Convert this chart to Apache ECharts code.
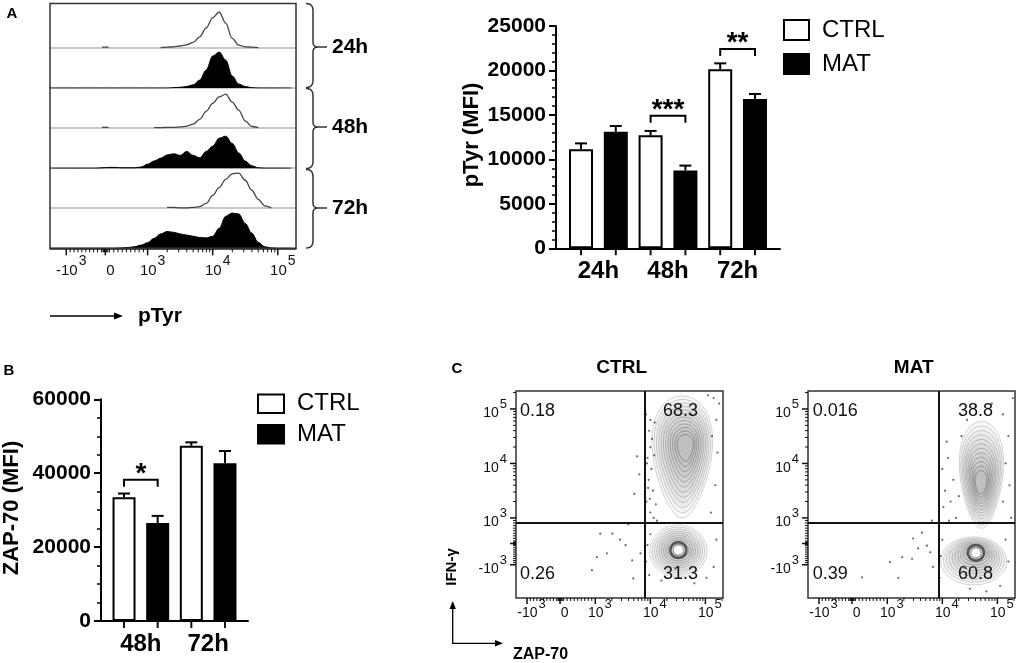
<!DOCTYPE html>
<html>
<head>
<meta charset="utf-8">
<script src="https://cdn.jsdelivr.net/npm/echarts@6/dist/echarts.min.js"></script>
<style>
  html, body { margin: 0; padding: 0; background: #fff; }
  #chart { width: 1020px; height: 663px; }
</style>
</head>
<body>
<div id="chart"></div>
<script>
/* ============================================================
   pTyr / ZAP-70 figure (panels A, B, C)
   ============================================================ */
const FONT = '"Liberation Sans", Arial, Helvetica, sans-serif';
const NARROW = '"Liberation Sans Narrow", "Arial Narrow", "Liberation Sans", Arial, sans-serif';

/* --- A: histograms (x in display units: 3 = 10^3, 4 = 10^4, 5 = 10^5) --- */
const histPos = [1.5,1.6,1.7,1.8,1.9,2.0,2.1,2.2,2.3,2.4,2.5,2.6,2.7,2.8,2.9,3.0,3.1,3.2,3.3,3.4,
                 3.5,3.6,3.7,3.8,3.9,4.0,4.1,4.2,4.3,4.4,4.5,4.6,4.7,4.8,4.9,5.0,5.1,5.2];
const histCtrl24 = [0,0,0,0,0,0,0,0,.02,.02,0,0,0,0,0,0,0,.01,.02,.03,.05,.08,.14,.28,.5,.76,.9,.62,.24,.07,.03,.02,.01,0,0,0,0,0];
const histMat24  = [0,0,0,0,0,0,0,0,0,0,0,0,0,0,0,0,0,0,0,.01,.02,.04,.08,.2,.45,.8,.9,.7,.3,.1,.04,.01,0,0,0,0,0,0];
const histCtrl48 = [0,0,0,0,0,0,0,0,.02,.02,0,0,0,0,0,0,.01,.01,.02,.02,.03,.05,.1,.22,.42,.62,.78,.85,.65,.45,.18,.04,.01,0,0,0,0,0];
const histMat48  = [0,0,0,0,0,0,0,0,.01,.02,.02,.01,.01,.01,.03,.1,.18,.25,.33,.36,.32,.42,.32,.26,.42,.55,.75,.8,.62,.38,.18,.06,.01,0,0,0,0,0];
const histCtrl72 = [0,0,0,0,0,0,0,0,0,0,0,0,0,0,0,0,0,0,.02,.02,.01,.01,.02,.04,.12,.32,.52,.72,.86,.88,.7,.45,.22,.06,.01,0,0,0];
const histMat72  = [0,0,0,0,0,0,0,0,0,0,0,.01,.02,.04,.08,.14,.25,.36,.42,.4,.36,.33,.3,.27,.26,.3,.5,.8,.88,.86,.62,.38,.15,.04,.01,0,0,0];
const histRows = [histCtrl24, histMat24, histCtrl48, histMat48, histCtrl72, histMat72];
const histFilled = [false, true, false, true, false, true];
const timeLabels = ['24h', '48h', '72h'];

/* --- flow axis ticks --- */
const flowTickVals = [-1000, 0, 1000, 10000, 100000];
const flowTickText = ['{b|-10}{e|3}', '{b|0}', '{b|10}{e|3}', '{b|10}{e|4}', '{b|10}{e|5}'];

/* --- A: pTyr MFI bars --- */
const pTyrCtrl = [11150, 12700, 20150];
const pTyrCtrlErr = [650, 500, 650];
const pTyrMat = [13100, 8750, 16800];
const pTyrMatErr = [650, 550, 550];
const pTyrSig = [[2, 3, 14900], [4, 5, 22400]];
const pTyrSigText = ['***', '**'];

/* --- B: ZAP-70 MFI bars --- */
const zapLabels = ['48h', '72h'];
const zapCtrl = [33500, 47400];
const zapCtrlErr = [1000, 950];
const zapMat = [26500, 42700];
const zapMatErr = [1950, 3300];
const zapSig = [[0, 1, 38200]];
const zapSigText = ['*'];

/* --- C: contour plots (ZAP-70 vs IFN-g) --- */
const quadCtrl = ['0.18', '68.3', '0.26', '31.3'];
const quadMat = ['0.016', '38.8', '0.39', '60.8'];
const gateCtrl = [3.89, 2.91];
const gateMat = [3.93, 2.91];
// [cx, cy, rx, ry, innerCx, innerCy, levels, holeRadius, taper]
const lobesCtrl = [[4.58, 4.12, 0.53, 1.12, 4.64, 4.30, 12, 0, 0.3], [4.51, 2.39, 0.52, 0.48, 4.51, 2.41, 10, 0.09, 0]];
const lobesMat = [[4.71, 3.79, 0.39, 0.98, 4.70, 3.64, 12, 0, 0.25], [4.57, 2.21, 0.6, 0.44, 4.61, 2.36, 10, 0.09, 0]];
const dotsCtrl = [[2.94,2.04],[3.09,2.71],[3.31,2.71],[3.03,2.28],[3.21,2.35],[3.67,2.22],[3.69,1.89],[3.6,2.88],
  [3.82,2.35],[3.76,4.13],[3.71,3.44],[3.8,3.8],[3.45,2.6],[3.55,2.5],
  [3.92,4.9],[3.98,4.6],[4.0,4.3],[3.95,4.1],[4.02,3.9],[3.97,3.7],[4.05,3.5],[3.93,3.3],[4.0,3.1],[4.08,4.75],
  [4.1,3.25],[3.96,3.55],[4.03,4.45],[3.94,4.0],[4.06,3.0],[4.12,2.95],[4.0,4.8],[4.07,4.15],[3.99,3.35],
  [5.15,5.2],[5.2,4.8],[5.05,5.25],[5.22,4.2],[5.18,3.6],[5.1,3.1],[5.2,2.6],[5.15,2.1],[5.02,1.9],[4.2,1.85],
  [4.8,1.8],[5.25,5.1],[5.12,4.5],[3.95,2.5],[3.92,2.2],[4.0,2.7],[3.98,1.95]];
const dotsMat = [[3.47,2.62],[3.63,2.73],[3.27,2.28],[3.05,2.19],[2.54,1.91],[3.2,1.9],[3.78,2.37],[3.83,2.1],
  [3.56,2.44],[3.81,2.95],[3.45,2.25],[3.72,2.49],
  [4.1,4.1],[4.2,3.7],[4.05,3.5],[4.15,3.3],[4.25,3.0],[4.0,3.9],[4.3,3.4],[4.12,2.95],[4.35,4.5],[4.45,4.8],
  [4.6,5.05],[4.9,5.1],[5.1,4.9],[5.2,4.5],[5.15,4.0],[5.22,3.6],[5.1,3.3],[5.25,3.0],[4.02,3.2],[4.08,4.4],[5.28,5.2],
  [5.15,2.6],[5.2,2.2],[5.05,1.75],[4.5,1.7],[4.8,1.65],[3.97,2.3],[3.95,1.9],[4.0,2.6]];

/* ============================================================
   helpers
   ============================================================ */
// biexponential-ish display transform
function biex(v, negPos, zeroPos) {
  if (v >= 1000) return Math.log10(v);
  if (v >= 0) return zeroPos + v / 1000 * (3 - zeroPos);
  return zeroPos + v / 1000 * (zeroPos - negPos);
}
const minorRaw = [];
for (let v = -900; v <= 900; v += 100) if (v !== 0) minorRaw.push(v);
[-60, -40, -20, 20, 40, 60].forEach(v => minorRaw.push(v));
for (let d = 1000; d <= 100000; d *= 10) for (let k = 2; k <= 9; k++) minorRaw.push(k * d);

function nearestIdx(arr, v) {
  let best = 0;
  arr.forEach((p, i) => { if (Math.abs(p - v) < Math.abs(arr[best] - v)) best = i; });
  return best;
}

// "10" with a raised exponent; tight line boxes so close labels are not dropped
function supRich(fs, sup, raise, shift) {
  return {
    b: { fontSize: fs, lineHeight: 8, padding: [raise, 0, 0, shift], fontFamily: FONT, color: '#111' },
    e: { fontSize: sup, lineHeight: 8, padding: [0, 0, raise, 1], fontFamily: FONT, color: '#111' }
  };
}

const grids = [], xAxes = [], yAxes = [], series = [];
const addGrid = g => { grids.push(g); return grids.length - 1; };
const addX = a => { xAxes.push(Object.assign({ type: 'value', splitLine: { show: false } }, a)); return xAxes.length - 1; };
const addY = a => { yAxes.push(Object.assign({ type: 'value', splitLine: { show: false } }, a)); return yAxes.length - 1; };

// tick marks drawn through the axis scale (one item anchored inside the grid)
function tickSeries(xi, yi, dim, values, edge, len, width, mid) {
  series.push({ type: 'custom', xAxisIndex: xi, yAxisIndex: yi, silent: true, z: 10, clip: false,
    data: [mid],
    renderItem: (params, api) => ({ type: 'group', children: values.map(v => {
      const p = api.coord(dim === 'x' ? [v, edge] : [edge, v]);
      const q = dim === 'x' ? [p[0], p[1] + len] : [p[0] - len, p[1]];
      return { type: 'line', shape: { x1: p[0], y1: p[1], x2: q[0], y2: q[1] }, style: { stroke: '#111', lineWidth: width } };
    }) }) });
}

function flowAxis(dim, gridIndex, min, max, negPos, zeroPos, o) {
  const majorPos = flowTickVals.map(v => biex(v, negPos, zeroPos));
  const add = dim === 'x' ? addX : addY;
  return add({ gridIndex, min, max, position: dim === 'x' ? 'bottom' : 'left',
    axisLine: { show: o.line, onZero: false, lineStyle: { color: '#222', width: 1.5 } },
    axisTick: { show: false },
    axisLabel: { show: true, customValues: majorPos, margin: o.margin, hideOverlap: false,
      showMinLabel: true, showMaxLabel: true,
      formatter: v => flowTickText[nearestIdx(majorPos, v)], rich: supRich(o.fs, o.sup, o.raise, o.shift) } });
}
function flowTicks(xi, yi, dim, min, max, negPos, zeroPos, edge, mid, o) {
  const majorPos = flowTickVals.map(v => biex(v, negPos, zeroPos));
  const minorPos = minorRaw.map(v => biex(v, negPos, zeroPos)).filter(p => p > min && p < max);
  tickSeries(xi, yi, dim, majorPos, edge, o.major, 1.5, mid);
  tickSeries(xi, yi, dim, minorPos, edge, o.minor, 1, mid);
}

function errorBar(params, api) {
  const x = api.value(0), v = api.value(1), e = api.value(2);
  const p0 = api.coord([x, v]), p1 = api.coord([x, v + e]);
  const st = { stroke: '#000', lineWidth: 2 };
  return { type: 'group', children: [
    { type: 'line', shape: { x1: p0[0], y1: p0[1], x2: p1[0], y2: p1[1] }, style: st },
    { type: 'line', shape: { x1: p1[0] - 6, y1: p1[1], x2: p1[0] + 6, y2: p1[1] }, style: st }
  ] };
}

function sigBracket(texts) {
  return function (params, api) {
    const a = api.coord([api.value(0), api.value(2)]);
    const b = api.coord([api.value(1), api.value(2)]);
    const st = { stroke: '#000', lineWidth: 2, fill: null };
    return { type: 'group', children: [
      { type: 'polyline', shape: { points: [[a[0], a[1] + 7], [a[0], a[1]], [b[0], b[1]], [b[0], b[1] + 7]] }, style: st },
      { type: 'text', x: (a[0] + b[0]) / 2, y: a[1] - 20,
        style: { text: texts[params.dataIndex], fontSize: 28, fontWeight: 'bold', fontFamily: FONT,
                 fill: '#000', align: 'center', verticalAlign: 'top' } }
    ] };
  };
}

// egg-shaped contour outline (pixel space); taper narrows the lower half
function eggPts(cx, cy, rx, ry, taper) {
  const pts = [];
  for (let k = 0; k < 56; k++) {
    const a = k / 56 * Math.PI * 2, s = Math.sin(a);
    pts.push([cx + rx * Math.cos(a) * (1 - taper * s), cy + ry * s]);
  }
  return pts;
}

function lobe(params, api) {
  const cx = api.value(0), cy = api.value(1), rx = api.value(2), ry = api.value(3);
  const icx = api.value(4), icy = api.value(5), n = api.value(6), hole = api.value(7), taper = api.value(8);
  const kids = [];
  for (let k = 0; k < n; k++) {
    const t = k / n;
    const c = api.coord([cx + (icx - cx) * t, cy + (icy - cy) * t]);
    const s = api.size([rx * (1 - 0.8 * t), ry * (1 - 0.85 * t)]);
    const g = Math.round(200 - 85 * t);
    kids.push({ type: 'polygon', shape: { points: eggPts(c[0], c[1], s[0], s[1], taper) },
      style: { fill: 'rgba(110,110,110,0.04)', stroke: `rgb(${g},${g},${g})`, lineWidth: 0.8 } });
  }
  if (hole > 0) {
    const c = api.coord([icx, icy]), s = api.size([hole, hole]);
    kids.push({ type: 'polygon', shape: { points: eggPts(c[0], c[1], s[0] * 1.6, s[1] * 1.6, 0) },
      style: { fill: null, stroke: '#555', lineWidth: 2.5 } });
    kids.push({ type: 'polygon', shape: { points: eggPts(c[0], c[1], s[0], s[1], 0) }, style: { fill: '#fff', stroke: '#777', lineWidth: 0.8 } });
  }
  return { type: 'group', children: kids };
}

/* ============================================================
   A — stacked histograms
   ============================================================ */
histRows.forEach((vals, i) => {
  const baseY = 48 + i * 40.06;
  const g = addGrid({ left: 50, top: baseY - 40, width: 246, height: 40 });
  const last = i === histRows.length - 1;
  const xi = last
    ? flowAxis('x', g, 1.5, 5.28, 1.75, 2.35, { line: true, margin: 14, fs: 15, sup: 14, raise: 10, shift: 10 })
    : addX({ gridIndex: g, min: 1.5, max: 5.28, axisLine: { show: true, onZero: false, lineStyle: { color: '#b5b5b5', width: 1.5 } },
        axisTick: { show: false }, axisLabel: { show: false } });
  const yi = addY({ gridIndex: g, min: 0, max: 1, show: false });
  if (last) flowTicks(xi, yi, 'x', 1.5, 5.28, 1.75, 2.35, 0, [3, 0.5], { major: 7, minor: 4 });
  const filled = histFilled[i];
  series.push({
    type: 'line', xAxisIndex: xi, yAxisIndex: yi, smooth: 0.35, smoothMonotone: 'x', symbol: 'none',
    connectNulls: false, silent: true,
    data: histPos.map((x, k) => [x, (!filled && vals[k] === 0) ? null : vals[k]]),
    lineStyle: { color: filled ? '#000' : '#444', width: filled ? 1 : 1.3 },
    areaStyle: filled ? { color: '#000', opacity: 1 } : undefined
  });
});

/* ============================================================
   bar panels (A right, B)
   ============================================================ */
function barPanel(box, labels, ctrl, ctrlErr, mat, matErr, sig, sigText, yMax, yInterval, yMinor, barW) {
  const n = labels.length * 2;
  const g = addGrid({ left: box.left, top: box.top, width: box.width, height: box.height });
  const xr = { min: -box.pad / box.step, max: n - 1 + box.pad / box.step };
  const barCenters = [];
  for (let k = 0; k < n; k++) barCenters.push(k);
  const labelPos = labels.map((_, i) => i * 2 + 0.5);
  const xc = addX(Object.assign({ gridIndex: g }, xr, {
    axisLine: { onZero: false, lineStyle: { color: '#000', width: 2 } },
    axisTick: { show: false },
    axisLabel: { customValues: labelPos, margin: 11, formatter: v => labels[Math.round((v - 0.5) / 2)],
      fontSize: 24, fontWeight: 'bold', fontFamily: FONT, color: '#000' }
  }));
  const xm = addX(Object.assign({ gridIndex: g, show: false }, xr));
  const y = addY({ gridIndex: g, min: 0, max: yMax, interval: yInterval,
    axisLine: { show: true, onZero: false, lineStyle: { color: '#000', width: 2 } },
    axisTick: { show: true, length: 7, lineStyle: { color: '#000', width: 2 } },
    minorTick: { show: true, splitNumber: yMinor, length: 4, lineStyle: { color: '#000', width: 1.5 } },
    axisLabel: { margin: 10, fontSize: 21, fontWeight: 'bold', fontFamily: FONT, color: '#000', formatter: v => String(v) }
  });
  tickSeries(xc, y, 'x', barCenters, 0, 7, 2, [0, yMax / 2]);
  series.push({ name: 'CTRL', type: 'bar', xAxisIndex: xc, yAxisIndex: y, barWidth: barW,
    data: ctrl.map((v, i) => [i * 2, v]), itemStyle: { color: '#fff', borderColor: '#000', borderWidth: 2 } });
  series.push({ name: 'MAT', type: 'bar', xAxisIndex: xm, yAxisIndex: y, barWidth: barW,
    data: mat.map((v, i) => [i * 2 + 1, v]), itemStyle: { color: '#000', borderColor: '#000', borderWidth: 2 } });
  series.push({ type: 'custom', xAxisIndex: xc, yAxisIndex: y, renderItem: errorBar, z: 3, silent: true,
    data: ctrl.map((v, i) => [i * 2, v, ctrlErr[i]]).concat(mat.map((v, i) => [i * 2 + 1, v, matErr[i]])) });
  series.push({ type: 'custom', xAxisIndex: xc, yAxisIndex: y, renderItem: sigBracket(sigText), z: 3, silent: true,
    data: sig });
}

barPanel({ left: 556, top: 26, width: 224, height: 222.3, pad: 25, step: 34.8 },
  timeLabels, pTyrCtrl, pTyrCtrlErr, pTyrMat, pTyrMatErr, pTyrSig, pTyrSigText, 25000, 5000, 5, 24);
barPanel({ left: 101, top: 399.3, width: 147, height: 221.7, pad: 23, step: 33.6 },
  zapLabels, zapCtrl, zapCtrlErr, zapMat, zapMatErr, zapSig, zapSigText, 60000, 20000, 4, 23);

/* ============================================================
   C — contour plots
   ============================================================ */
function flowPanel(left, lobes, dots, gate) {
  const g = addGrid({ left, top: 391, width: 207, height: 207, show: true, borderColor: '#333', borderWidth: 1.5 });
  const xi = flowAxis('x', g, 1.56, 5.32, 1.76, 2.36, { line: false, margin: 7, fs: 14, sup: 13, raise: 9, shift: 9 });
  const yi = flowAxis('y', g, 1.53, 5.33, 2.14, 2.53, { line: false, margin: 9, fs: 14, sup: 13, raise: 9, shift: 0 });
  const mid = [3.4, 3.4];
  flowTicks(xi, yi, 'x', 1.56, 5.32, 1.76, 2.36, 1.53, mid, { major: 6, minor: 3 });
  flowTicks(xi, yi, 'y', 1.53, 5.33, 2.14, 2.53, 1.56, mid, { major: 6, minor: 3 });
  series.push({ type: 'custom', xAxisIndex: xi, yAxisIndex: yi, renderItem: lobe, silent: true, clip: true, data: lobes });
  series.push({ type: 'scatter', xAxisIndex: xi, yAxisIndex: yi, symbolSize: 2.2, silent: true,
    itemStyle: { color: '#444' }, data: dots,
    markLine: { silent: true, symbol: 'none', label: { show: false }, animation: false,
      lineStyle: { color: '#111', width: 2, type: 'solid' },
      data: [{ xAxis: gate[0] }, { yAxis: gate[1] }] } });
}
flowPanel(516, lobesCtrl, dotsCtrl, gateCtrl);
flowPanel(808, lobesMat, dotsMat, gateMat);

/* ============================================================
   annotations
   ============================================================ */
const txt = (x, y, text, o) => ({ type: 'text', x, y, rotation: o.rot || 0, z: 100,
  style: { text, fontSize: o.fs, fontWeight: o.w || 'normal', fontFamily: o.ff || FONT, fill: o.c || '#000',
           align: o.align || 'left', verticalAlign: 'middle' } });
const arrowHead = (pts) => ({ type: 'polygon', z: 100, shape: { points: pts }, style: { fill: '#000' } });

const graphics = [
  { type: 'rect', z: 100, shape: { x: 50, y: 3.5, width: 246, height: 244.8 }, style: { fill: null, stroke: '#333', lineWidth: 1.5 } },
  txt(12, 14, 'A', { fs: 15, w: 'bold', align: 'center' }),
  txt(9, 371, 'B', { fs: 15, w: 'bold', align: 'center' }),
  txt(457, 369, 'C', { fs: 15, w: 'bold', align: 'center' }),
  { type: 'line', z: 100, shape: { x1: 50, y1: 316, x2: 116, y2: 316 }, style: { stroke: '#000', lineWidth: 1.5 } },
  arrowHead([[123, 316], [114, 312.5], [114, 319.5]]),
  txt(138, 316, 'pTyr', { fs: 21, w: 'bold' }),
  txt(472, 135, 'pTyr (MFI)', { fs: 22, w: 'bold', align: 'center', rot: Math.PI / 2 }),
  txt(12, 508, 'ZAP-70 (MFI)', { fs: 22, w: 'bold', align: 'center', rot: Math.PI / 2 }),
  txt(621.7, 368, 'CTRL', { fs: 19, w: 'bold', ff: NARROW, align: 'center' }),
  txt(913.7, 368, 'MAT', { fs: 19, w: 'bold', ff: NARROW, align: 'center' }),
  txt(451.7, 567, 'IFN-γ', { fs: 15, w: 'bold', ff: NARROW, align: 'center', rot: Math.PI / 2 }),
  txt(513, 655, 'ZAP-70', { fs: 16, w: 'bold', ff: NARROW }),
  { type: 'polyline', z: 100, shape: { points: [[452.7, 608], [452.7, 643.3], [496, 643.3]] }, style: { stroke: '#000', lineWidth: 1.3, fill: null } },
  arrowHead([[452.7, 601], [449.5, 609], [455.9, 609]]),
  arrowHead([[503, 643.3], [495, 640.1], [495, 646.5]])
];

// quadratic curve sampled into points
function quad(p0, c, p1) {
  const pts = [];
  for (let k = 0; k <= 6; k++) {
    const t = k / 6, u = 1 - t;
    pts.push([u * u * p0[0] + 2 * u * t * c[0] + t * t * p1[0], u * u * p0[1] + 2 * u * t * c[1] + t * t * p1[1]]);
  }
  return pts;
}
// braces next to the histogram rows
[[3.5, 87.5, 47], [88.5, 168.5, 127], [169.5, 248, 208]].forEach((b, i) => {
  const [y1, y2, ym] = b;
  const pts = [].concat(
    quad([306, y1], [313, y1], [313, y1 + 7]),
    quad([313, ym - 5], [313, ym], [318, ym]),
    [[327, ym], [318, ym]],
    quad([318, ym], [313, ym], [313, ym + 5]),
    quad([313, y2 - 7], [313, y2], [306, y2])
  );
  graphics.push({ type: 'polyline', z: 100, shape: { points: pts }, style: { stroke: '#333', lineWidth: 1.5, fill: null } });
  graphics.push(txt(332, ym, timeLabels[i], { fs: 21, w: 'bold' }));
});

// quadrant percentages
[[quadCtrl, 520, 680.5], [quadMat, 812.7, 975.5]].forEach(([q, lx, rx]) => {
  graphics.push(txt(lx, 411.5, q[0], { fs: 18, c: '#111' }));
  graphics.push(txt(rx, 411.5, q[1], { fs: 18, c: '#111', align: 'center' }));
  graphics.push(txt(lx, 574, q[2], { fs: 18, c: '#111' }));
  graphics.push(txt(rx, 574, q[3], { fs: 18, c: '#111', align: 'center' }));
});

/* ============================================================
   render
   ============================================================ */
const legendText = { fontSize: 24, fontFamily: FONT, color: '#000', padding: [0, 0, 0, 8] };
const chart = echarts.init(document.getElementById('chart'));
chart.setOption({
  animation: false,
  backgroundColor: '#fff',
  grid: grids,
  xAxis: xAxes,
  yAxis: yAxes,
  legend: [
    { left: 783, top: 18, padding: 0, orient: 'vertical', itemWidth: 25, itemHeight: 20, itemGap: 10, selectedMode: false,
      icon: 'rect', data: ['CTRL', 'MAT'], textStyle: legendText },
    { left: 257, top: 391.7, padding: 0, orient: 'vertical', itemWidth: 26, itemHeight: 18.5, itemGap: 6.5, selectedMode: false,
      icon: 'rect', data: ['CTRL', 'MAT'], textStyle: legendText }
  ],
  series,
  graphic: graphics
});
</script>
</body>
</html>
